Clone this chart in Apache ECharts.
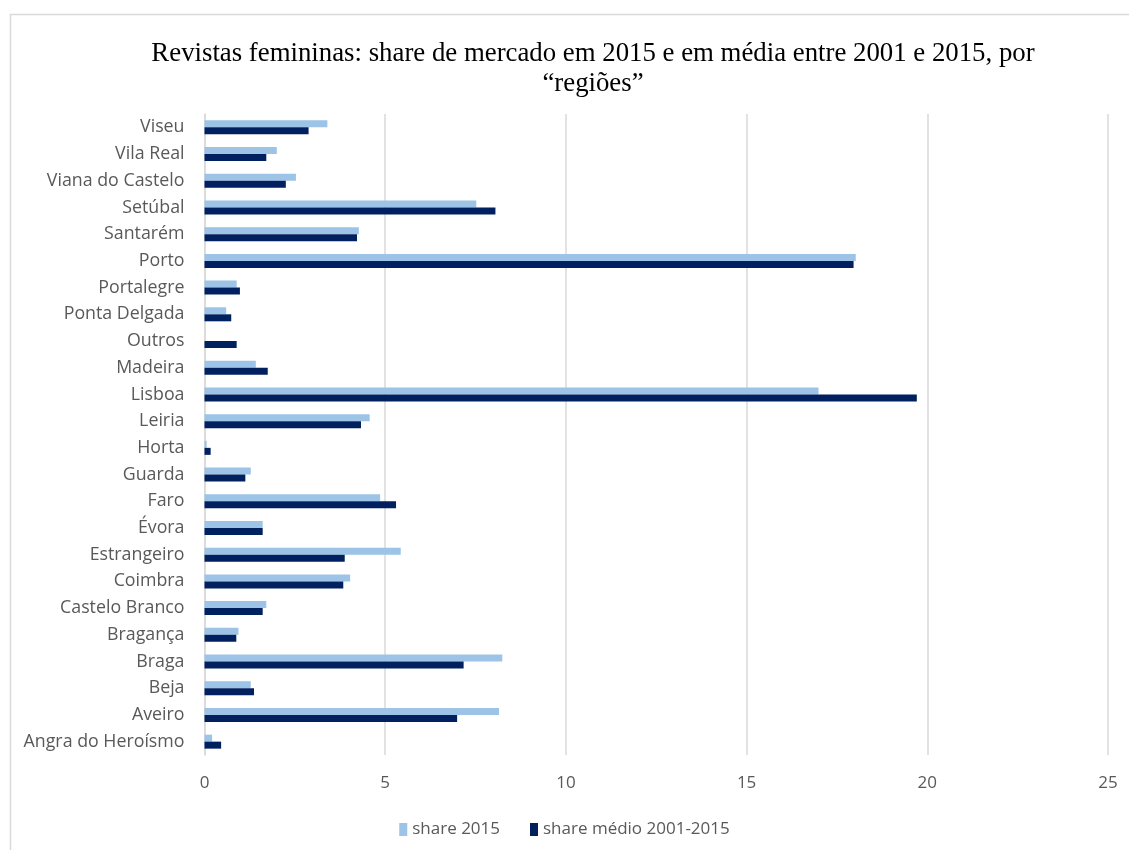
<!DOCTYPE html>
<html>
<head>
<meta charset="utf-8">
<script src="https://cdn.jsdelivr.net/npm/echarts@6/dist/echarts.min.js"></script>
<style>
html,body{margin:0;padding:0;background:#fff;}
#chart{width:1129px;height:850px;}
</style>
</head>
<body>
<div id="chart"></div>
<script>
// Categories listed bottom to top
const categories = ["Angra do Heroísmo","Aveiro","Beja","Braga","Bragança","Castelo Branco","Coimbra","Estrangeiro","Évora","Faro","Guarda","Horta","Leiria","Lisboa","Madeira","Outros","Ponta Delgada","Portalegre","Porto","Santarém","Setúbal","Viana do Castelo","Vila Real","Viseu"];
const share2015 = [0.21,8.15,1.28,8.24,0.94,1.71,4.03,5.43,1.61,4.86,1.28,0.06,4.57,16.99,1.42,0,0.60,0.89,18.02,4.27,7.52,2.53,2.00,3.40];
const shareMedio = [0.46,6.99,1.37,7.17,0.88,1.61,3.84,3.88,1.61,5.30,1.13,0.17,4.33,19.71,1.75,0.89,0.74,0.98,17.96,4.22,8.05,2.25,1.71,2.88];
const seriesNames = ["share 2015","share médio 2001-2015"];
const titleText = "Revistas femininas: share de mercado em 2015 e em média entre 2001 e 2015, por\n“regiões”";

const chart = echarts.init(document.getElementById('chart'));
const labelFont = '"Open Sans", Lato, sans-serif';
chart.setOption({
  animation: false,
  backgroundColor: '#fff',
  graphic: [{
    type: 'rect', left: 8, top: 12, z: -1,
    shape: {width: 1200, height: 900},
    style: {fill: 'none', stroke: '#D9D9D9', lineWidth: 1.5}
  }],
  title: {
    text: titleText,
    left: 588, top: 34, textAlign: 'center',
    textStyle: {fontFamily: '"Liberation Serif", "Times New Roman", serif', fontSize: 26.8, fontWeight: 'normal', color: '#000', lineHeight: 30}
  },
  legend: {
    data: seriesNames,
    left: 'center', top: 816,
    itemWidth: 8, itemHeight: 13, itemGap: 30,
    icon: 'rect',
    textStyle: {fontFamily: labelFont, fontSize: 17, color: '#595959'}
  },
  grid: {left: 204.5, right: 21, top: 114, bottom: 95, containLabel: false},
  xAxis: {
    type: 'value', min: 0, max: 25, interval: 5,
    axisLine: {show: false}, axisTick: {show: false},
    splitLine: {lineStyle: {color: '#D9D9D9', width: 1.5}},
    axisLabel: {fontFamily: labelFont, fontSize: 17, color: '#595959', margin: 20}
  },
  yAxis: {
    type: 'category', data: categories,
    axisLine: {show: true, lineStyle: {color: '#D9D9D9', width: 1.5}},
    axisTick: {show: false},
    axisLabel: {fontFamily: labelFont, fontSize: 17.8, color: '#595959', margin: 20}
  },
  series: [
    {name: seriesNames[0], type: 'bar', data: share2015, barWidth: 7, barGap: '0%', itemStyle: {color: '#9DC3E6'}},
    {name: seriesNames[1], type: 'bar', data: shareMedio, barWidth: 7, barGap: '0%', itemStyle: {color: '#002060'}}
  ]
});
</script>
</body>
</html>
